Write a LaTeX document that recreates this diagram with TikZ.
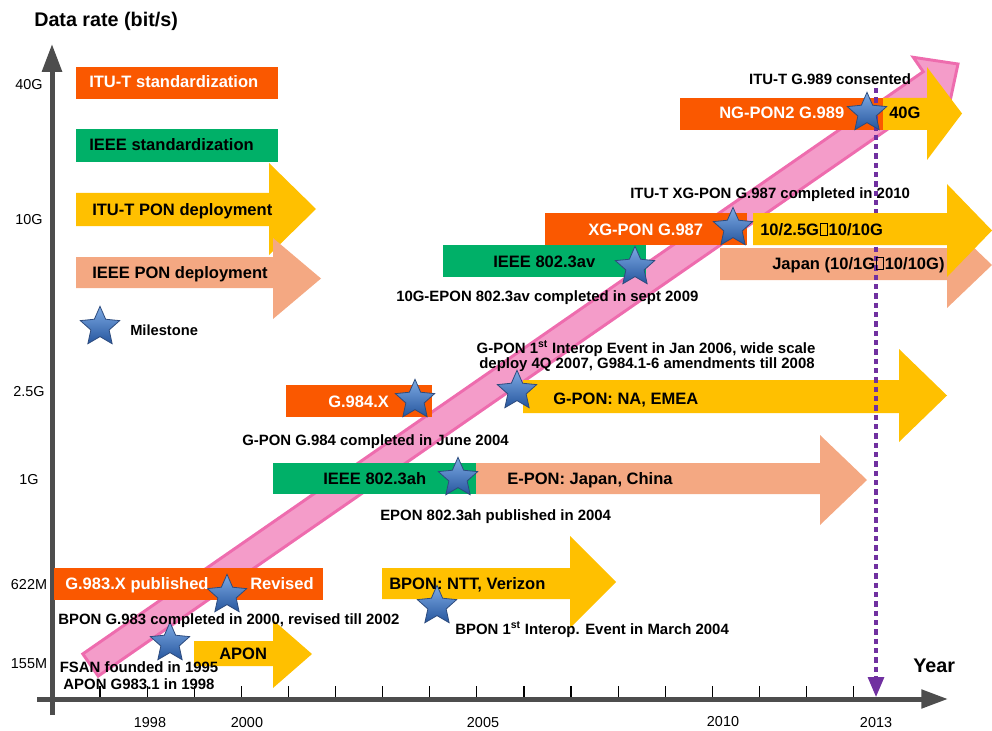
\documentclass[tikz,border=0pt]{standalone}
\usepackage{fontspec}
\setmainfont{Liberation Sans}
\usetikzlibrary{shapes.geometric,arrows.meta}

\definecolor{itured}{RGB}{250,88,0}
\definecolor{ieeegreen}{RGB}{0,176,104}
\definecolor{ituyellow}{RGB}{255,192,0}
\definecolor{ieeesalmon}{RGB}{244,168,130}
\definecolor{bandpink}{RGB}{244,156,201}
\definecolor{bandedge}{RGB}{238,108,174}
\definecolor{axisgray}{RGB}{77,77,77}
\definecolor{markpurple}{RGB}{112,48,160}
\definecolor{starlight}{RGB}{125,170,228}
\definecolor{stardark}{RGB}{38,86,158}
\definecolor{staredge}{RGB}{45,75,125}

% missing-glyph box as printed in the rate labels
\newcommand\tofu{\kern0.06em\raisebox{-0.02em}{\setlength\fboxsep{0pt}\setlength\fboxrule{0.05em}\fbox{\rule{0pt}{0.72em}\hspace{0.36em}}}\kern0.06em}

% right-pointing block arrow: style, x0, top, bottom, head base x, head top, head bottom, tip x
\newcommand\blockarrow[8]{%
  \fill[#1] (#2,#3) -- (#5,#3) -- (#5,#6) -- (#8,{(#6+#7)/2}) -- (#5,#7) -- (#5,#4) -- (#2,#4) -- cycle;}

\begin{document}
\begin{tikzpicture}[x=0.75pt,y=-0.75pt,
  itustd/.style={fill=itured},
  ieeestd/.style={fill=ieeegreen},
  itudep/.style={fill=ituyellow},
  ieeedep/.style={fill=ieeesalmon},
  bigtxt/.style={inner sep=0pt, font=\fontsize{12.4}{14}\selectfont\bfseries},
  smalltxt/.style={inner sep=0pt, font=\fontsize{11.2}{13}\selectfont\bfseries},
  ticktxt/.style={inner sep=0pt, font=\fontsize{10.8}{13}\selectfont},
  axistitle/.style={inner sep=0pt, font=\fontsize{14.8}{17}\selectfont\bfseries},
  axisline/.style={draw=axisgray, line width=3.75pt},
  tickline/.style={draw=black, line width=0.9pt},
  milestar/.style={star, star points=5, star point ratio=2.15, minimum size=31pt,
    inner sep=0pt, draw=staredge, line width=0.6pt, top color=starlight, bottom color=stardark},
]
\clip (0,0) rectangle (992,731);

% rising data-rate band
\filldraw[fill=bandpink, draw=bandedge, line width=2.2pt, line join=miter]
  (82.8,653.9) -- (923.2,71.7) -- (913.3,57.3) -- (958,64) -- (948.5,108.3)
  -- (938.6,93.9) -- (98.2,676.1) -- cycle;

% year ticks
\foreach \k in {0,...,16}
  \draw[tickline] ({100+47.1*\k},686) -- ({100+47.1*\k},699);

% axes
\coordinate (yfoot) at (52,715);
\coordinate (yhead) at (52,44);
\coordinate (xfoot) at (37,699);
\coordinate (xhead) at (948,699);
\draw[axisline, -{Triangle[length=21pt,width=14.5pt]}] (yfoot) -- (yhead);
\draw[axisline, -{Triangle[length=20pt,width=13.5pt]}] (xfoot) -- (xhead);

% legend
\fill[itustd] (76,67) rectangle (278,99);
\fill[ieeestd] (76,129) rectangle (278,162);
\blockarrow{itudep}{76}{193}{226}{269}{163}{255}{316}
\blockarrow{ieeedep}{76}{257}{288}{273}{238}{319}{321}

% standardization bars and deployment arrows
\fill[itustd] (54,568) rectangle (323,600);
\blockarrow{itudep}{194}{641}{666}{273}{620}{688}{312}
\blockarrow{itudep}{382}{568}{599}{570}{536}{628}{616}
\fill[itustd] (286,385) rectangle (432,417);
\fill[ieeestd] (273,463) rectangle (476,494);
\blockarrow{ieeedep}{476}{463}{494}{820}{435}{525}{867}
\blockarrow{itudep}{523}{380}{413}{899}{349}{442}{947}
\fill[ieeestd] (443,245) rectangle (646,277);
\fill[itustd] (545,213) rectangle (747,245);
\blockarrow{ieeedep}{720}{248}{280}{947}{222}{308}{992}
\fill[itustd] (680,98) rectangle (883,130);
\blockarrow{itudep}{883}{98}{130}{927}{67}{160}{962}

% 2013 marker
\coordinate (marktop) at (876,88);
\coordinate (markfoot) at (876,697);
\draw[markpurple, line width=2.4pt, dash pattern=on 4pt off 3pt,
  -{Triangle[length=15pt,width=12pt]}] (marktop) -- (markfoot);

\blockarrow{itudep}{753}{213}{245}{947}{184}{277}{992}

% milestones
\node[milestar] (star-legend) at (100,327) {};
\node[milestar] (star-ngpon) at (867,113) {};
\node[milestar] (star-xgpon) at (733,228) {};
\node[milestar] (star-av) at (635,267) {};
\node[milestar] (star-g984) at (415,400) {};
\node[milestar] (star-gpon) at (517,391) {};
\node[milestar] (star-ah) at (458,478) {};
\node[milestar] (star-g983) at (227,595) {};
\node[milestar] (star-fsan) at (170,643) {};
\node[milestar] (star-bpon) at (437,606) {};

% axis titles and scale labels
\node[axistitle, anchor=base west] (ytitle) at (34,27) {Data rate (bit/s)};
\node[axistitle, anchor=base west] (xtitle) at (913,672) {Year};
\node[ticktxt, anchor=base] (r40g) at (29,90) {40G};
\node[ticktxt, anchor=base] (r10g) at (29,224) {10G};
\node[ticktxt, anchor=base] (r25g) at (29,396) {2.5G};
\node[ticktxt, anchor=base] (r1g) at (29,484) {1G};
\node[ticktxt, anchor=base] (r622m) at (29,589) {622M};
\node[ticktxt, anchor=base] (r155m) at (29,668) {155M};
\node[ticktxt, anchor=base] (y1998) at (150,727) {1998};
\node[ticktxt, anchor=base] (y2000) at (247,727) {2000};
\node[ticktxt, anchor=base] (y2005) at (483,727) {2005};
\node[ticktxt, anchor=base] (y2010) at (723,726) {2010};
\node[ticktxt, anchor=base] (y2013) at (876,727) {2013};

% legend texts
\node[bigtxt, white, anchor=base west] (lg-itustd) at (89,88) {ITU-T standardization};
\node[bigtxt, anchor=base west] (lg-ieeestd) at (89,151) {IEEE standardization};
\node[bigtxt, anchor=base west] (lg-itudep) at (92,215) {ITU-T PON deployment};
\node[bigtxt, anchor=base west] (lg-ieeedep) at (92,278) {IEEE PON deployment};
\node[inner sep=0pt, font=\fontsize{11}{13}\selectfont\bfseries, anchor=base west] (lg-mile) at (130,335) {Milestone};

% bar and arrow labels
\node[bigtxt, white, anchor=base west] (t-ngpon) at (719,119) {NG-PON2 G.989};
\node[bigtxt, anchor=base west] (t-40g) at (889,119) {40G};
\node[bigtxt, white, anchor=base west] (t-xgpon) at (588,235) {XG-PON G.987};
\node[bigtxt, anchor=base west] (t-xgdep) at (760,235) {10/2.5G\tofu10/10G};
\node[bigtxt, anchor=base west] (t-japan) at (772,269) {Japan (10/1G\tofu10/10G)};
\node[bigtxt, anchor=base west] (t-av) at (493,267) {IEEE 802.3av};
\node[bigtxt, white, anchor=base west] (t-g984) at (328,407) {G.984.X};
\node[bigtxt, anchor=base west] (t-gpon) at (553,404) {G-PON: NA, EMEA};
\node[bigtxt, anchor=base west] (t-ah) at (323,484) {IEEE 802.3ah};
\node[bigtxt, anchor=base west] (t-epon) at (507,484) {E-PON: Japan, China};
\node[bigtxt, white, anchor=base west] (t-g983) at (65,589) {G.983.X published};
\node[bigtxt, white, anchor=base west] (t-rev) at (250,589) {Revised};
\node[bigtxt, anchor=base west] (t-bpon) at (389,589) {BPON: NTT, Verizon};
\node[bigtxt, anchor=base west] (t-apon) at (219,659) {APON};

% milestone notes
\node[smalltxt, anchor=base] (n-ngpon) at (830,85) {ITU-T G.989 consented};
\node[smalltxt, anchor=base west] (n-xgpon) at (630,199) {ITU-T XG-PON G.987 completed in 2010};
\node[smalltxt, anchor=base west] (n-av) at (396,301) {10G-EPON 802.3av completed in sept 2009};
\node[smalltxt, anchor=base] (n-gpon-a) at (646,353) {G-PON 1\textsuperscript{st} Interop Event in Jan 2006, wide scale};
\node[smalltxt, anchor=base] (n-gpon-b) at (647,368) {deploy 4Q 2007, G984.1-6 amendments till 2008};
\node[smalltxt, anchor=base west] (n-g984) at (242,445) {G-PON G.984 completed in June 2004};
\node[smalltxt, anchor=base west] (n-ah) at (380,520) {EPON 802.3ah published in 2004};
\node[smalltxt, anchor=base west] (n-g983) at (58,624) {BPON G.983 completed in 2000, revised till 2002};
\node[smalltxt, anchor=base west] (n-bpon) at (455,634) {BPON 1\textsuperscript{st} Interop. Event in March 2004};
\node[smalltxt, anchor=base] (n-fsan-a) at (139,672) {FSAN founded in 1995};
\node[smalltxt, anchor=base] (n-fsan-b) at (139,689) {APON G983.1 in 1998};
\end{tikzpicture}
\end{document}
